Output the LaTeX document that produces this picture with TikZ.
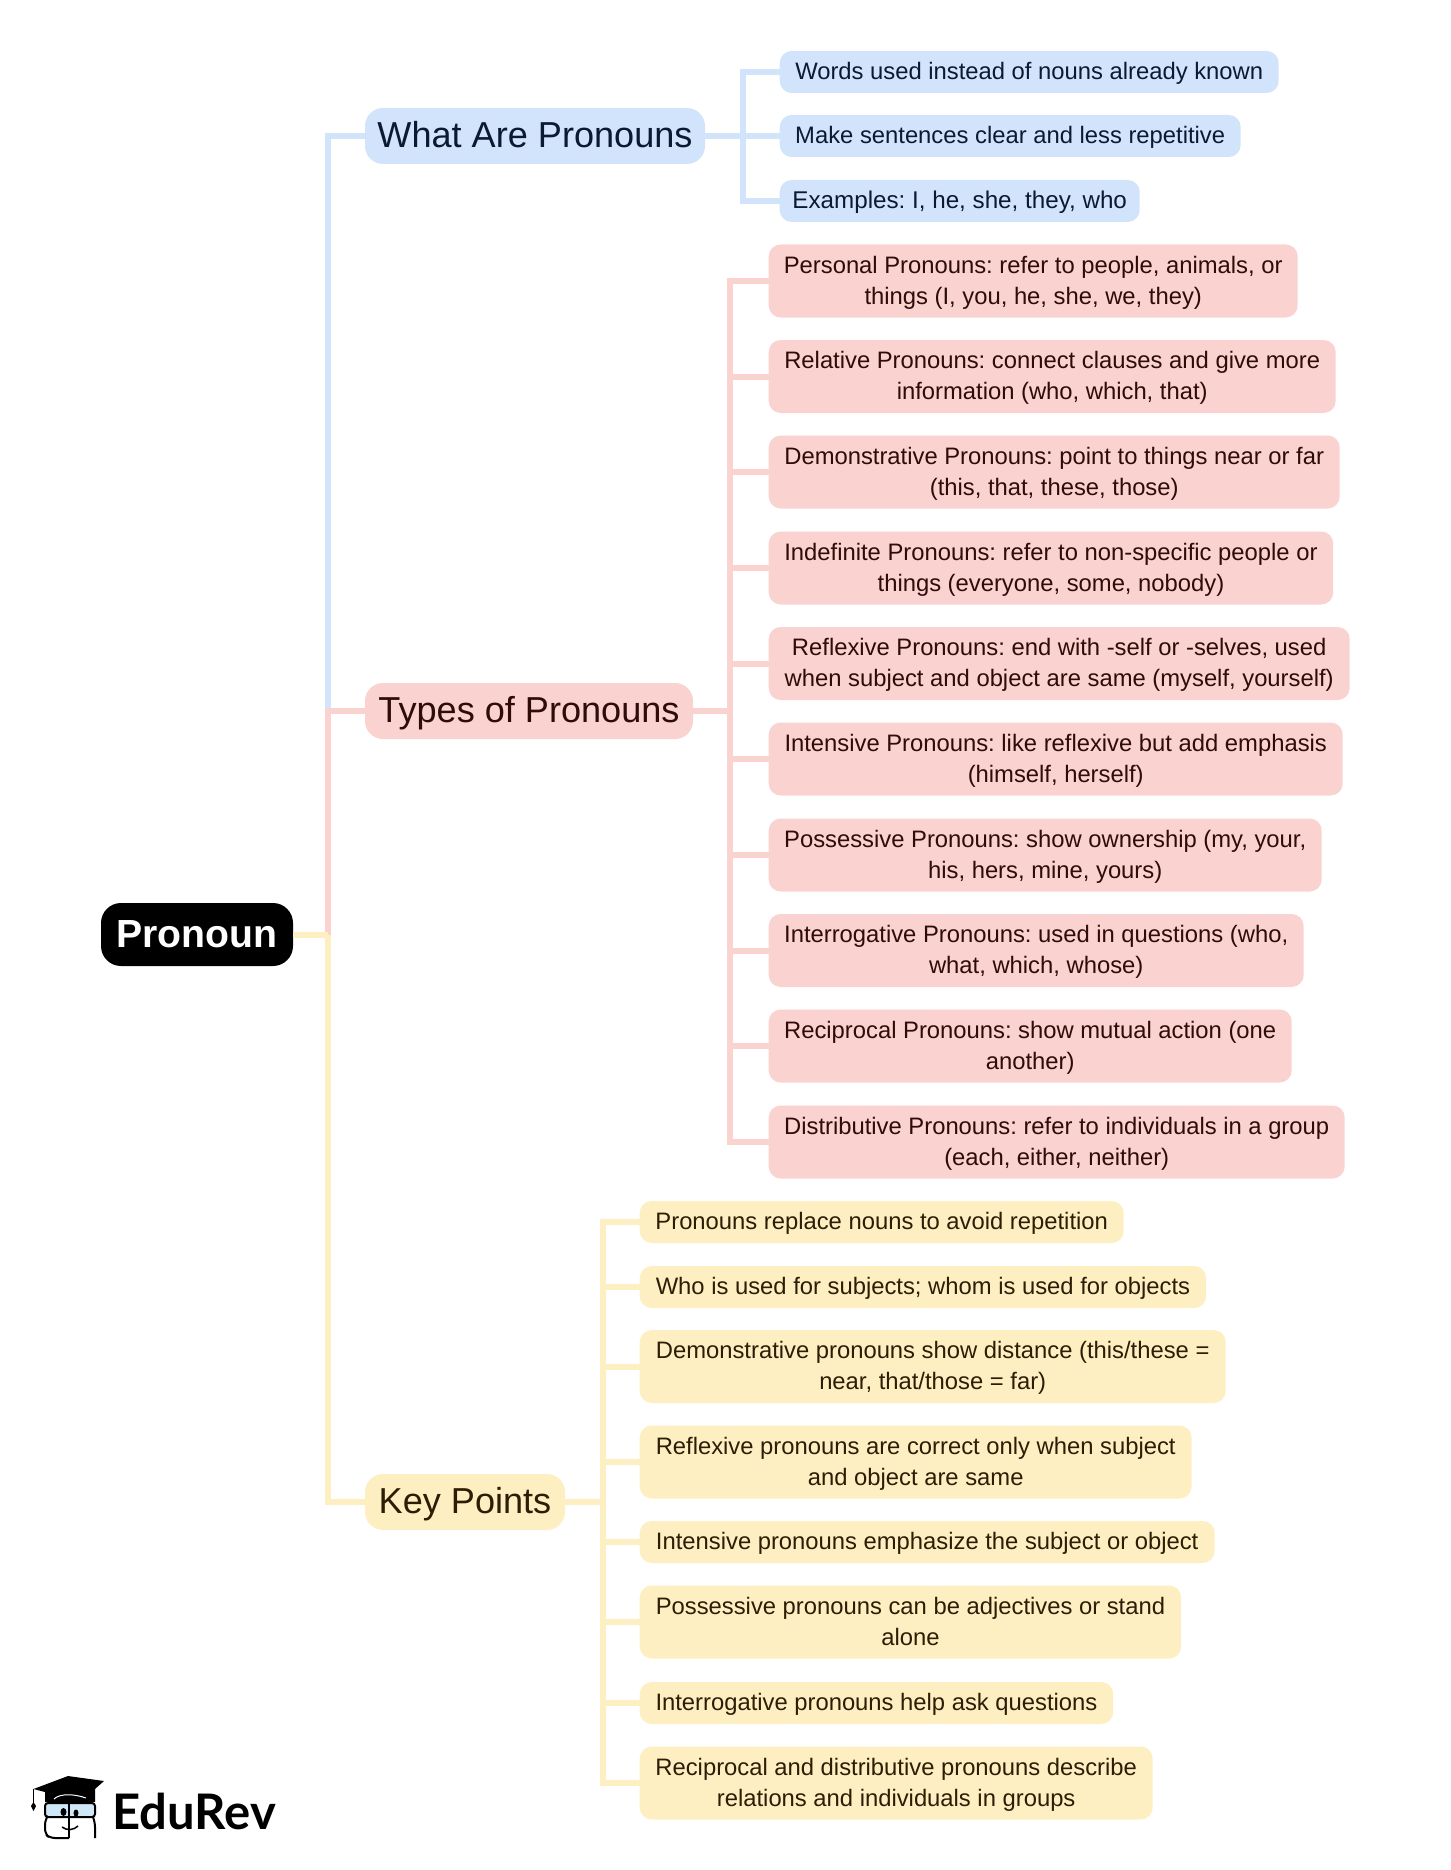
\documentclass[tikz,border=0pt]{standalone}
\usepackage{fontspec}
\setmainfont{Liberation Sans}
\newfontfamily\logofont{Lato}
\usepackage{tikz}
\definecolor{bluefill}{HTML}{D2E3FC}
\definecolor{redfill}{HTML}{FAD2CF}
\definecolor{yellowfill}{HTML}{FEEFC3}
\definecolor{bluetext}{HTML}{0B1A33}
\definecolor{redtext}{HTML}{2E0C0A}
\definecolor{yellowtext}{HTML}{2B1E05}
\definecolor{glass}{HTML}{CFE8F7}
\tikzset{
	box/.style={shape=rectangle,anchor=west,inner sep=0pt,outer sep=0pt,align=center},
	leaf/.style={box,xshift=0.7pt,rounded corners=12pt,font=\fontsize{23.8}{31}\selectfont},
	one/.style={minimum height=42pt,text height=20.5pt,text depth=5pt},
	two/.style={minimum height=73pt,text height=51.5pt,text depth=5pt},
	branch/.style={box,rounded corners=18pt,minimum height=56pt,text height=31pt,text depth=8pt,font=\fontsize{36.1}{42}\selectfont},
	blueleaf/.style={leaf,one,fill=bluefill,text=bluetext},
	redleaf/.style={leaf,two,fill=redfill,text=redtext},
	yellowleaf/.style={leaf,fill=yellowfill,text=yellowtext},
	bluelink/.style={draw=bluefill,line width=6pt},
	redlink/.style={draw=redfill,line width=6pt},
	yellowlink/.style={draw=yellowfill,line width=6pt}
}
\begin{document}
\frenchspacing
\begin{tikzpicture}[x=1pt,y=-1pt]
	\useasboundingbox (0,0) rectangle (1450,1870);
	\node[box,fill=black,text=white,rounded corners=20pt,minimum width=192pt,minimum height=63pt,text height=34pt,text depth=8pt,font=\fontsize{39.2}{44}\selectfont\bfseries](root) at (101,934.5){Pronoun};
	\node[branch,fill=bluefill,text=bluetext,minimum width=340pt](what) at (365,136){What Are Pronouns};
	\node[branch,fill=redfill,text=redtext,minimum width=328pt](types) at (365,711){Types of Pronouns};
	\node[branch,fill=yellowfill,text=yellowtext,minimum width=200pt](key) at (365,1502){Key Points};
	\node[blueleaf,minimum width=499pt](w1) at (779,72){Words used instead of nouns already known};
	\node[blueleaf,minimum width=461pt](w2) at (779,136){Make sentences clear and less repetitive};
	\node[blueleaf,minimum width=360pt,font=\fontsize{24.2}{31}\selectfont](w3) at (779,201){Examples: I, he, she, they, who};
	\node[redleaf,minimum width=529pt](t1) at (768,281){Personal Pronouns: refer to people, animals, or\\things (I, you, he, she, we, they)};
	\node[redleaf,minimum width=567pt](t2) at (768,376.5){Relative Pronouns: connect clauses and give more\\information (who, which, that)};
	\node[redleaf,minimum width=571pt](t3) at (768,472){Demonstrative Pronouns: point to things near or far\\(this, that, these, those)};
	\node[redleaf,minimum width=564.5pt](t4) at (768,568){Indefinite Pronouns: refer to non-specific people or\\things (everyone, some, nobody)};
	\node[redleaf,minimum width=581pt](t5) at (768,663.5){Reflexive Pronouns: end with -self or -selves, used\\when subject and object are same (myself, yourself)};
	\node[redleaf,minimum width=574pt](t6) at (768,759){Intensive Pronouns: like reflexive but add emphasis\\(himself, herself)};
	\node[redleaf,minimum width=553pt](t7) at (768,855){Possessive Pronouns: show ownership (my, your,\\his, hers, mine, yours)};
	\node[redleaf,minimum width=535pt](t8) at (768,950.5){Interrogative Pronouns: used in questions (who,\\what, which, whose)};
	\node[redleaf,minimum width=523pt](t9) at (768,1046){Reciprocal Pronouns: show mutual action (one\\another)};
	\node[redleaf,minimum width=576pt](t10) at (768,1142){Distributive Pronouns: refer to individuals in a group\\(each, either, neither)};
	\node[yellowleaf,one,minimum width=484pt](k1) at (639,1222){Pronouns replace nouns to avoid repetition};
	\node[yellowleaf,one,minimum width=566.5pt](k2) at (639,1287){Who is used for subjects; whom is used for objects};
	\node[yellowleaf,two,minimum width=586pt](k3) at (639,1366.5){Demonstrative pronouns show distance (this/these =\\near, that/those = far)};
	\node[yellowleaf,two,minimum width=552pt](k4) at (639,1462){Reflexive pronouns are correct only when subject\\and object are same};
	\node[yellowleaf,one,minimum width=575pt](k5) at (639,1542){Intensive pronouns emphasize the subject or object};
	\node[yellowleaf,two,minimum width=541.5pt](k6) at (639,1622){Possessive pronouns can be adjectives or stand\\alone};
	\node[yellowleaf,one,minimum width=473.5pt](k7) at (639,1703){Interrogative pronouns help ask questions};
	\node[yellowleaf,two,minimum width=513pt](k8) at (639,1783){Reciprocal and distributive pronouns describe\\relations and individuals in groups};
	\coordinate (rootj) at (328,934.5);
	\coordinate (whatj) at (742.5,136);
	\coordinate (typesj) at (730,711);
	\coordinate (keyj) at (602.5,1502);
	\draw[bluelink] (rootj) |- (what.west);
	\draw[redlink] (rootj) |- (types.west);
	\draw[yellowlink] (root.east) -- (rootj);
	\draw[yellowlink] (rootj) |- (key.west);
	\draw[bluelink] (what.east) -- (w2.west);
	\draw[bluelink] (whatj) |- (w1.west);
	\draw[bluelink] (whatj) |- (w3.west);
	\draw[redlink] (types.east) -- (typesj);
	\draw[redlink] (typesj) |- (t1.west);
	\draw[redlink] (typesj) |- (t2.west);
	\draw[redlink] (typesj) |- (t3.west);
	\draw[redlink] (typesj) |- (t4.west);
	\draw[redlink] (typesj) |- (t5.west);
	\draw[redlink] (typesj) |- (t6.west);
	\draw[redlink] (typesj) |- (t7.west);
	\draw[redlink] (typesj) |- (t8.west);
	\draw[redlink] (typesj) |- (t9.west);
	\draw[redlink] (typesj) |- (t10.west);
	\draw[yellowlink] (key.east) -- (keyj);
	\draw[yellowlink] (keyj) |- (k1.west);
	\draw[yellowlink] (keyj) |- (k2.west);
	\draw[yellowlink] (keyj) |- (k3.west);
	\draw[yellowlink] (keyj) |- (k4.west);
	\draw[yellowlink] (keyj) |- (k5.west);
	\draw[yellowlink] (keyj) |- (k6.west);
	\draw[yellowlink] (keyj) |- (k7.west);
	\draw[yellowlink] (keyj) |- (k8.west);
	\fill[black] (33.5,1789) -- (68,1776) -- (104,1781) -- (95,1789) -- (95,1802) -- (45,1802) -- (45,1792) -- cycle;
	\draw[white,line width=1pt] (54,1799) .. controls (60,1793) and (75,1794) .. (86,1798);
	\draw[black,line width=1.2pt] (33.5,1789) -- (33.5,1803);
	\fill[black] (33.5,1802) -- (36,1806) -- (33.5,1811) -- (31,1806) -- cycle;
	\draw[black,line width=2pt,fill=glass,rounded corners=3pt] (45,1803) rectangle (95,1817);
	\draw[black,line width=2pt,rounded corners=5pt] (69,1838) -- (50,1838) -- (45,1834) -- (45,1820) -- (47,1817);
	\draw[black,line width=2pt,rounded corners=5pt] (93,1817) -- (95,1822) -- (95,1838);
	\draw[black,line width=2pt] (69,1802) -- (69,1838);
	\fill[black] (63.5,1812) ellipse (3pt and 4pt);
	\fill[black] (76,1813) ellipse (2.5pt and 3.5pt);
	\draw[black,line width=1.5pt] (62,1827) .. controls (67,1831) and (74,1830) .. (78,1826);
	\node[inner sep=0pt,anchor=base west,font=\fontsize{49}{52}\selectfont\logofont\bfseries](logo) at (112,1829){EduRev};
\end{tikzpicture}
\end{document}
